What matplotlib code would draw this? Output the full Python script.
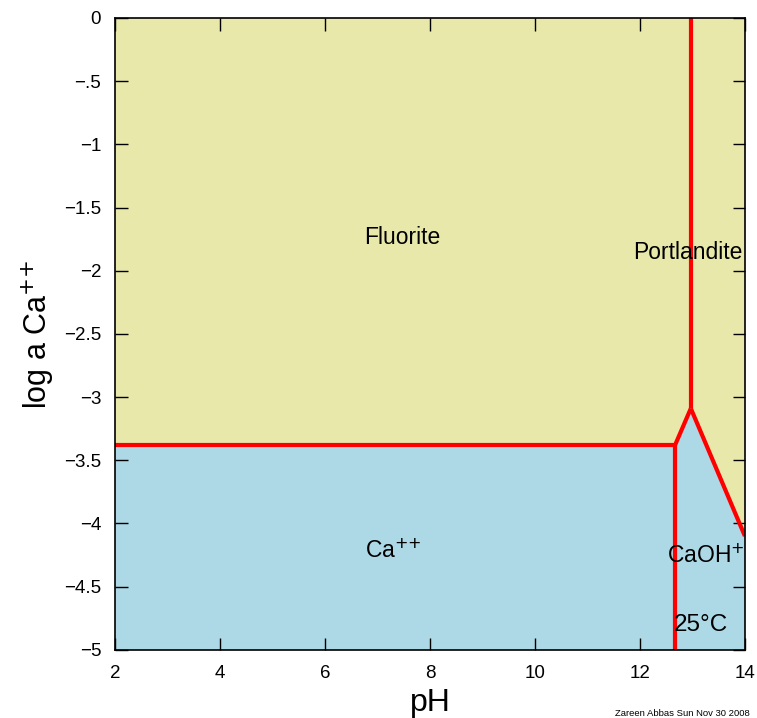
import matplotlib.pyplot as plt

plt.rcParams['font.family'] = ['Liberation Sans', 'DejaVu Sans']

# predominance diagram: Ca-F-OH system at 25 C
ph_min, ph_max = 2, 14
loga_min, loga_max = -5, 0

# boundary points (pH, log a Ca++)
ca_fluorite_ph = [2, 12.67]
ca_fluorite_loga = [-3.38, -3.38]
ca_caoh_ph = [12.67, 12.67]
ca_caoh_loga = [-3.38, -5]
caoh_fluorite_ph = [12.67, 12.97]
caoh_fluorite_loga = [-3.38, -3.09]
fluorite_portl_ph = [12.97, 12.97]
fluorite_portl_loga = [-3.09, 0]
caoh_portl_ph = [12.97, 14]
caoh_portl_loga = [-3.09, -4.10]

region_names = ['Fluorite', 'Portlandite', 'Ca$^{{+}{+}}$', 'CaOH$^{+}$']
region_ph = [7.47, 12.91, 7.3, 13.25]
region_loga = [-1.74, -1.86, -4.22, -4.26]

yticks = [0, -0.5, -1, -1.5, -2, -2.5, -3, -3.5, -4, -4.5, -5]
yticklabels = ['0', '\u2212.5', '\u22121', '\u22121.5', '\u22122', '\u22122.5',
               '\u22123', '\u22123.5', '\u22124', '\u22124.5', '\u22125']
xticks = [2, 4, 6, 8, 10, 12, 14]

yellow = '#e8e8aa'
blue = '#add8e6'

fig = plt.figure(figsize=(7.57, 7.18), dpi=100)
ax = fig.add_axes([0.152, 0.095, 0.832, 0.880])

# mineral field (whole box), then the aqueous field on top
ax.fill([ph_min, ph_max, ph_max, ph_min], [loga_min, loga_min, loga_max, loga_max],
        color=yellow, zorder=0)
aq_ph = [ph_min, ca_fluorite_ph[1], caoh_fluorite_ph[1], caoh_portl_ph[1], ph_max, ph_min]
aq_loga = [ca_fluorite_loga[0], ca_fluorite_loga[1], caoh_fluorite_loga[1],
           caoh_portl_loga[1], loga_min, loga_min]
ax.fill(aq_ph, aq_loga, color=blue, zorder=1)

for xs, ys in [(ca_fluorite_ph, ca_fluorite_loga), (ca_caoh_ph, ca_caoh_loga),
               (caoh_fluorite_ph, caoh_fluorite_loga),
               (fluorite_portl_ph, fluorite_portl_loga),
               (caoh_portl_ph, caoh_portl_loga)]:
    ax.plot(xs, ys, color='red', lw=3, solid_capstyle='butt', zorder=3)

for name, x, y in zip(region_names, region_ph, region_loga):
    ax.text(x, y, name, ha='center', va='center', fontsize=16.5, zorder=4)
ax.text(13.16, -4.8, '25\u00b0C', ha='center', va='center', fontsize=17.5, zorder=4)

ax.set_xlim(ph_min, ph_max)
ax.set_ylim(loga_min, loga_max)
ax.set_xticks(xticks)
ax.set_xticklabels([str(t) for t in xticks])
ax.set_yticks(yticks)
ax.set_yticklabels(yticklabels)
ax.tick_params(direction='in', length=9, width=1, top=True, right=True,
               labelsize=13.5)
ax.tick_params(axis='x', pad=11)
ax.tick_params(axis='y', pad=10)
ax.set_xlabel('pH', fontsize=23, labelpad=4)
ax.set_ylabel('log a Ca$^{{+}{+}}$', fontsize=22, labelpad=6)
for s in ax.spines.values():
    s.set_linewidth(1.2)
    s.set_zorder(5)

fig.text(0.991, 0.0, 'Zareen Abbas Sun Nov 30 2008', ha='right', va='bottom',
         fontsize=6.8)

fig.savefig('out.png', dpi=100)
